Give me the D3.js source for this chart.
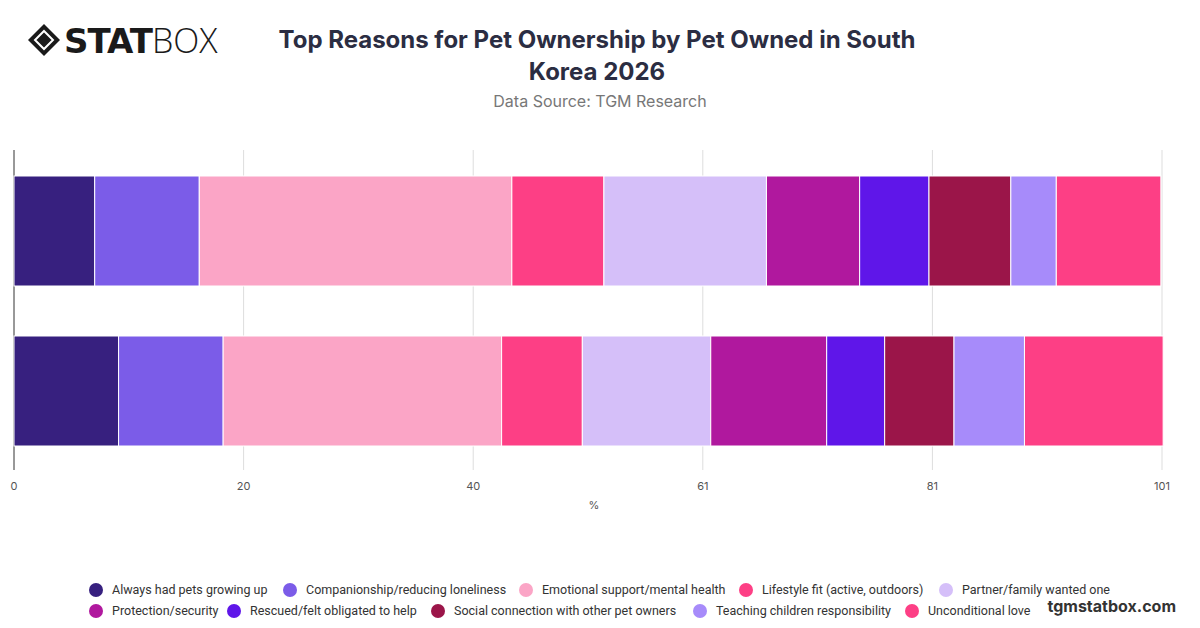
<!DOCTYPE html>
<html><head><meta charset="utf-8">
<script src="https://cdn.jsdelivr.net/npm/d3@7"></script>
<style>body{margin:0;background:#fff;font-family:Inter,"Open Sans",sans-serif}</style>
</head><body><svg id="c" width="1200" height="628"></svg>
<script>
const categories = ["Cat", "Dog"];
const seriesNames = ["Always had pets growing up","Companionship/reducing loneliness","Emotional support/mental health","Lifestyle fit (active, outdoors)","Partner/family wanted one","Protection/security","Rescued/felt obligated to help","Social connection with other pet owners","Teaching children responsibility","Unconditional love"];
const colors = ["#37207f","#7b5ce8","#fba5c6","#fd3f85","#d5bff9","#b0189e","#5f16e9","#9b1549","#a78bfa","#fd3f85"];
const valuesCat = [7.1,9.2,27.5,8.1,14.3,8.2,6.1,7.2,4.0,9.2];
const valuesDog = [9.2,9.2,24.5,7.1,11.3,10.2,5.1,6.1,6.2,12.2];
const tickValues = [0,20.2,40.4,60.6,80.8,101];
const tickLabels = ["0","20","40","61","81","101"];

const svg = d3.select("#c");
const x = d3.scaleLinear().domain([0,101]).range([14,1162]);
const y = d3.scaleBand().domain(categories).range([150,472]).paddingInner(0.3125).paddingOuter(0.1625);

svg.append("g").selectAll("line").data(tickValues).join("line")
 .attr("x1",d=>x(d)).attr("x2",d=>x(d)).attr("y1",150).attr("y2",470)
 .attr("stroke",d=>d===0?"#333":"#ddd").attr("stroke-width",1);
svg.selectAll(".t").data(tickValues).join("text")
 .attr("x",d=>x(d)).attr("y",490).attr("text-anchor","middle")
 .attr("font-size",11).attr("fill","#555").text((d,i)=>tickLabels[i]);
svg.append("text").attr("x",594).attr("y",509).attr("text-anchor","middle").attr("font-size",11).attr("fill","#555").text("%");

[valuesCat, valuesDog].forEach((vals,ri)=>{
  let acc=0;
  const segs = vals.map((v,i)=>{const s={i,x0:acc,x1:acc+v};acc+=v;return s;});
  svg.append("g").selectAll("rect").data(segs).join("rect")
   .attr("x",d=>x(d.x0)).attr("width",d=>x(d.x1)-x(d.x0))
   .attr("y",y(categories[ri])).attr("height",y.bandwidth())
   .attr("fill",d=>colors[d.i]).attr("stroke","#fff").attr("stroke-width",1);
});

svg.append("text").attr("x",597).attr("y",48).attr("text-anchor","middle").attr("font-size",24).attr("font-weight",700).attr("fill","#2b2d42").text("Top Reasons for Pet Ownership by Pet Owned in South");
svg.append("text").attr("x",597).attr("y",80).attr("text-anchor","middle").attr("font-size",24).attr("font-weight",700).attr("fill","#2b2d42").text("Korea 2026");
svg.append("text").attr("x",600).attr("y",107).attr("text-anchor","middle").attr("font-size",16).attr("fill","#777").text("Data Source: TGM Research");

const lg = svg.append("g").attr("transform","translate(44,40)");
lg.append("path").attr("d","M0,-16 L16,0 L0,16 L-16,0 Z").attr("fill","#1a1a1a");
lg.append("path").attr("d","M0,-9 L9,0 L0,9 L-9,0 Z").attr("fill","none").attr("stroke","#fff").attr("stroke-width",2);
svg.append("text").attr("x",64).attr("y",53).attr("font-size",34).attr("font-weight",900).attr("fill","#1a1a1a").attr("font-family","'DejaVu Sans',sans-serif").attr("letter-spacing",-1).text("STAT");
svg.append("text").attr("x",152).attr("y",53).attr("font-size",34).attr("font-weight",300).attr("fill","#1a1a1a").attr("font-family","'Open Sans',sans-serif").text("BOX");

const row1 = [[96,0],[290,1],[526,2],[746,3],[946,4]];
const row2 = [[96,5],[234,6],[438,7],[700,8],[912,9]];
[[row1,594],[row2,615]].forEach(([row,yy])=>{
  row.forEach(([lx,i])=>{
    svg.append("circle").attr("cx",lx).attr("cy",yy-4).attr("r",7).attr("fill",colors[i]);
    svg.append("text").attr("x",lx+16).attr("y",yy).attr("font-size",12.5).attr("font-family","Roboto,sans-serif").attr("fill","#333").text(seriesNames[i]);
  });
});
svg.append("text").attr("x",1176).attr("y",612).attr("text-anchor","end").attr("font-size",16).attr("font-weight",700).attr("fill","#333").text("tgmstatbox.com");
</script></body></html>
